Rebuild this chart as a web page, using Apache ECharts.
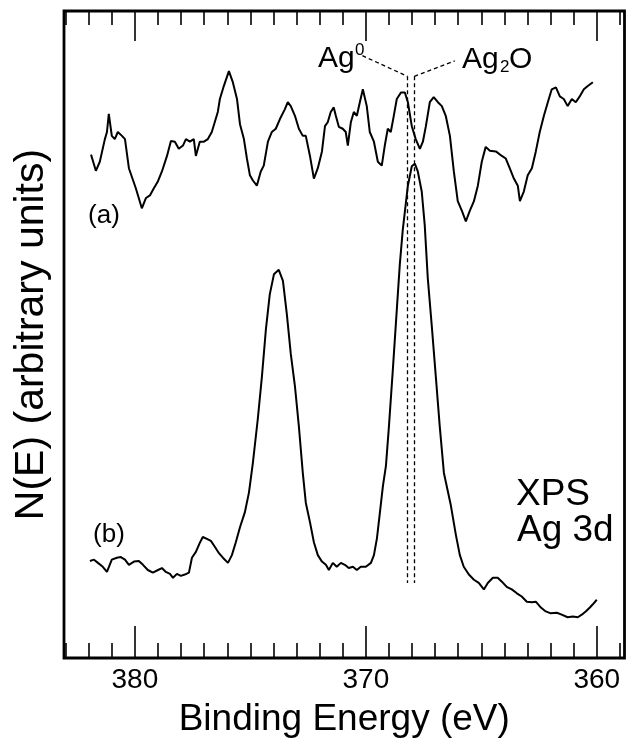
<!DOCTYPE html>
<html>
<head>
<meta charset="utf-8">
<script src="https://cdn.jsdelivr.net/npm/echarts@6/dist/echarts.min.js"></script>
<style>
html,body{margin:0;padding:0;background:#fff;}
#chart{width:626px;height:743px;}
</style>
</head>
<body>
<div id="chart"></div>
<script>
// ---- data (binding energy in eV, intensity in arbitrary units) ----
const energiesA = [381.90,381.69,381.52,381.30,381.21,381.13,381.00,380.87,380.74,380.56,380.43,380.26,379.96,379.70,379.52,379.35,379.18,379.00,378.83,378.61,378.44,378.27,378.10,377.92,377.79,377.62,377.45,377.36,377.19,377.01,376.84,376.67,376.41,376.32,376.15,375.93,375.76,375.58,375.45,375.28,375.15,375.02,374.89,374.72,374.55,374.42,374.24,374.07,373.90,373.72,373.51,373.38,373.25,373.07,372.90,372.73,372.60,372.42,372.25,372.08,371.90,371.77,371.65,371.52,371.39,371.30,371.17,371.00,370.87,370.78,370.65,370.52,370.39,370.26,370.13,369.96,369.83,369.65,369.48,369.31,369.18,369.05,368.92,368.79,368.66,368.48,368.31,368.18,368.01,367.84,367.66,367.53,367.40,367.23,367.06,366.88,366.71,366.54,366.36,366.19,366.02,365.84,365.67,365.50,365.32,365.15,364.98,364.81,364.63,364.37,364.11,363.94,363.77,363.59,363.42,363.33,363.16,362.99,362.81,362.64,362.47,362.29,362.12,361.95,361.77,361.60,361.43,361.26,361.08,360.91,360.74,360.56,360.39,360.17];
const countsA = [77.8,75.3,76.7,80.2,81.3,84.1,80.7,80.2,81.3,80.7,80.2,75.7,72.6,69.5,71.1,71.5,72.6,73.7,75.2,77.6,79.9,79.8,78.7,79.2,80.2,79.8,80.2,77.6,79.8,79.8,80.2,81.3,84.4,86.4,88.4,90.7,89.0,86.4,82.5,80.2,77.2,74.6,73.8,73.0,75.2,76.1,79.8,81.3,81.8,83.3,84.8,85.9,85.3,83.8,81.8,80.7,80.7,77.6,74.1,75.7,78.3,82.2,82.8,84.4,85.1,83.8,82.1,81.8,81.3,79.2,82.8,84.4,83.8,85.9,87.9,85.3,81.3,79.8,76.7,76.1,79.2,81.8,81.3,83.8,86.4,87.4,87.4,85.9,82.2,80.2,78.7,79.8,82.2,85.9,86.7,85.9,85.3,83.8,80.7,75.2,70.6,69.1,67.5,69.1,70.6,73.0,76.7,79.0,78.4,78.3,77.6,77.2,75.7,74.1,73.0,70.6,72.1,74.6,75.7,78.3,81.3,83.8,85.9,87.9,88.2,86.8,86.4,85.3,86.4,85.9,86.8,87.9,88.4,89.0];

const energiesB = [381.95,381.77,381.60,381.39,381.21,381.00,380.78,380.61,380.43,380.26,380.04,379.83,379.65,379.44,379.22,379.00,378.83,378.66,378.48,378.35,378.18,378.01,377.84,377.66,377.53,377.36,377.19,377.06,376.88,376.71,376.54,376.36,376.19,375.97,375.80,375.63,375.45,375.24,375.06,374.89,374.68,374.50,374.33,374.16,373.98,373.77,373.59,373.42,373.25,373.07,372.90,372.73,372.60,372.42,372.25,372.08,371.90,371.73,371.60,371.43,371.26,371.08,370.91,370.74,370.56,370.39,370.22,370.00,369.78,369.65,369.52,369.39,369.26,369.13,369.00,368.83,368.66,368.53,368.40,368.18,368.01,367.88,367.75,367.58,367.45,367.32,367.14,366.97,366.80,366.62,366.32,366.10,365.93,365.76,365.54,365.32,365.11,364.89,364.72,364.50,364.29,364.11,363.90,363.68,363.46,363.25,363.03,362.81,362.64,362.42,362.21,361.99,361.73,361.52,361.26,361.04,360.82,360.65,360.48,360.30,360.17,360.00];
const countsB = [15.0,15.2,14.7,14.1,13.3,15.2,15.5,15.6,15.2,14.4,14.9,15.0,14.4,13.6,13.2,13.6,13.9,13.3,13.0,12.4,13.0,12.7,12.9,13.2,15.5,16.4,17.8,18.7,18.4,18.1,17.2,16.2,15.5,14.7,15.9,17.9,20.2,22.5,25.6,30.2,36.9,43.5,50.7,56.2,59.3,60.0,58.3,53.1,47.0,42.0,35.8,28.6,24.0,21.0,17.9,15.9,14.9,14.4,13.6,14.7,14.1,14.7,14.4,13.9,14.1,13.6,14.1,14.1,14.7,15.9,18.5,22.5,26.6,29.7,35.8,44.6,53.8,60.8,66.2,73.0,76.0,76.4,75.2,72.1,66.9,58.8,51.1,43.5,35.8,28.6,23.6,19.0,15.9,14.1,12.9,12.1,11.6,10.6,11.6,12.4,12.4,11.8,11.0,10.6,10.0,9.5,8.7,8.6,8.7,7.8,7.2,6.9,7.0,6.7,6.3,6.4,6.3,6.7,7.2,7.8,8.3,9.0];

const majorTicks = [360, 370, 380];
const minorTicks = [359,361,362,363,364,365,366,367,368,369,371,372,373,374,375,376,377,378,379,381,382,383];
const peakAg0 = 368.2;   // Ag metal 3d5/2
const peakAg2O = 367.9;  // Ag2O 3d5/2

const xMin = 358.8, xMax = 383.07;
const FONT = '"Liberation Sans", Arial, Helvetica, sans-serif';

function pairs(xs, ys){ return xs.map((x,i)=>[x, ys[i]]); }

const chart = echarts.init(document.getElementById('chart'), null, {renderer:'canvas'});

function xAx(pos, ticks, len, showLabel, extra){
  return Object.assign({
    type:'value', position:pos, min:xMin, max:xMax, inverse:true,
    axisLine:{show:false},
    splitLine:{show:false},
    axisTick:{show:true, inside:true, length:len, customValues:ticks, lineStyle:{color:'#000', width:1.6}},
    axisLabel:{show:showLabel, customValues:ticks, color:'#000', fontSize:28, fontFamily:FONT, margin:8}
  }, extra||{});
}

const dashStyle = {color:'#000', width:1.3, type:[4,3]};

chart.setOption({
  animation:false,
  backgroundColor:'#fff',
  grid:{left:64, right:1.5, top:11, bottom:79, show:true, borderColor:'#000', borderWidth:2.8, backgroundColor:'transparent'},
  xAxis:[
    xAx('bottom', majorTicks, 32, true, {
      name:'Binding Energy (eV)', nameLocation:'middle', nameGap:43,
      nameTextStyle:{color:'#000', fontSize:37, fontFamily:FONT}
    }),
    xAx('bottom', minorTicks, 15, false),
    xAx('top', majorTicks, 30, false),
    xAx('top', minorTicks, 14, false)
  ],
  yAxis:{
    type:'value', min:0, max:100,
    axisLine:{show:false}, axisTick:{show:false}, axisLabel:{show:false}, splitLine:{show:false},
    name:'N(E) (arbitrary units)', nameLocation:'middle', nameGap:12,
    nameTextStyle:{color:'#000', fontSize:41, fontFamily:FONT}
  },
  series:[
    {
      name:'(a)', type:'line', xAxisIndex:0, data:pairs(energiesA, countsA),
      showSymbol:false, symbol:'none', lineStyle:{color:'#000', width:2}, z:3
    },
    {
      name:'(b)', type:'line', xAxisIndex:0, data:pairs(energiesB, countsB),
      showSymbol:false, symbol:'none', lineStyle:{color:'#000', width:2}, z:3,
      markLine:{
        silent:true, symbol:['none','none'], label:{show:false},
        lineStyle:dashStyle,
        data:[
          [{coord:[peakAg0, 89.9]}, {coord:[peakAg0, 11.6]}],
          [{coord:[peakAg2O, 89.9]}, {coord:[peakAg2O, 11.6]}],
          [{coord:[370.15, 93.1]}, {coord:[peakAg0, 89.9]}],
          [{coord:[peakAg2O, 89.9]}, {coord:[366.15, 92.3]}]
        ]
      }
    }
  ],
  graphic:[
    {type:'text', style:{text:'Ag', x:318, y:59, font:'30px '+FONT, fill:'#000', textVerticalAlign:'middle'}},
    {type:'text', style:{text:'0', x:355, y:50, font:'17px '+FONT, fill:'#000', textVerticalAlign:'middle'}},
    {type:'text', style:{text:'Ag', x:462, y:60, font:'30px '+FONT, fill:'#000', textVerticalAlign:'middle'}},
    {type:'text', style:{text:'2', x:500, y:67, font:'17px '+FONT, fill:'#000', textVerticalAlign:'middle'}},
    {type:'text', style:{text:'O', x:509, y:60, font:'30px '+FONT, fill:'#000', textVerticalAlign:'middle'}},
    {type:'text', style:{text:'(a)', x:104, y:216, font:'26px '+FONT, fill:'#000', textAlign:'center', textVerticalAlign:'middle'}},
    {type:'text', style:{text:'(b)', x:109, y:535, font:'26px '+FONT, fill:'#000', textAlign:'center', textVerticalAlign:'middle'}},
    {type:'text', style:{text:'XPS', x:516, y:495, font:'37px '+FONT, fill:'#000', textVerticalAlign:'middle'}},
    {type:'text', style:{text:'Ag 3d', x:517, y:531, font:'37px '+FONT, fill:'#000', textVerticalAlign:'middle'}}
  ]
});
</script>
</body>
</html>
